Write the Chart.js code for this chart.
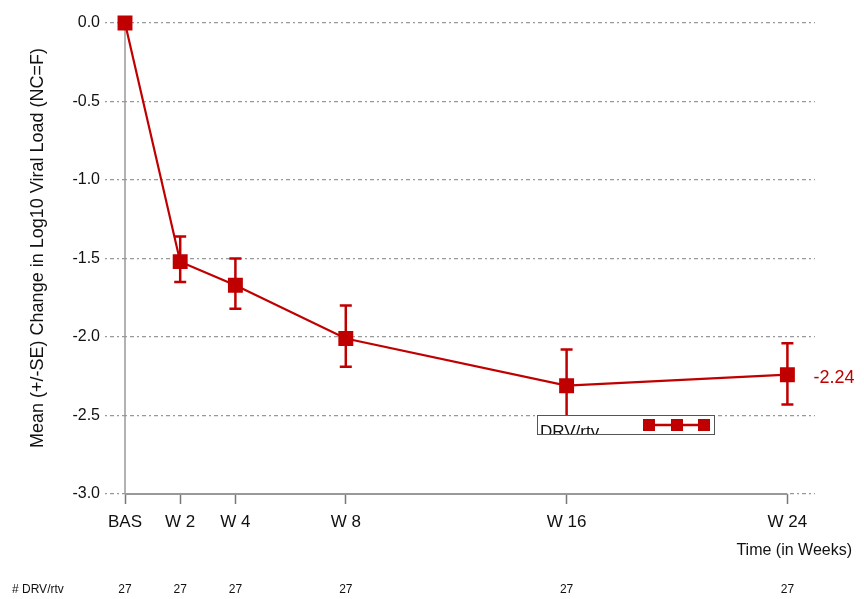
<!DOCTYPE html>
<html>
<head>
<meta charset="utf-8">
<script src="https://cdn.jsdelivr.net/npm/chart.js@4"></script>
<style>
  body { margin: 0; background: #fff; }
</style>
</head>
<body>
<canvas id="vlChart" width="864" height="599"></canvas>
<script>
const weeks = [0, 2, 4, 8, 16, 24];
const weekLabels = ['BAS', 'W 2', 'W 4', 'W 8', 'W 16', 'W 24'];
const meanChange = [0, -1.52, -1.67, -2.01, -2.31, -2.24];
const seUpper = [0, -1.36, -1.50, -1.80, -2.08, -2.04];
const seLower = [0, -1.65, -1.82, -2.19, -2.54, -2.43];
const nPatients = [27, 27, 27, 27, 27, 27];
const seriesName = 'DRV/rtv';
const yTitle = 'Mean (+/-SE) Change in Log10 Viral Load (NC=F)';

const red = '#C00000';
const font = "'Liberation Sans', Arial, sans-serif";

// error bars behind the markers
const errorBars = {
    id: 'errorBars',
    beforeDatasetsDraw(chart) {
        const ctx = chart.ctx;
        const x = chart.scales.x, y = chart.scales.y;
        ctx.save();
        // solid axis lines (grid stays dashed)
        ctx.strokeStyle = '#999';
        ctx.lineWidth = 1.5;
        ctx.beginPath();
        ctx.moveTo(x.getPixelForValue(0), y.getPixelForValue(0));
        ctx.lineTo(x.getPixelForValue(0), y.getPixelForValue(-3));
        ctx.stroke();
        ctx.lineWidth = 2;
        ctx.beginPath();
        ctx.moveTo(x.getPixelForValue(weeks[0]), y.getPixelForValue(-3));
        ctx.lineTo(x.getPixelForValue(weeks[weeks.length - 1]), y.getPixelForValue(-3));
        ctx.stroke();

        ctx.strokeStyle = red;
        ctx.lineWidth = 2.5;
        weeks.forEach((w, i) => {
            if (seUpper[i] === seLower[i]) return;
            const px = x.getPixelForValue(w);
            const top = y.getPixelForValue(seUpper[i]);
            const bot = y.getPixelForValue(seLower[i]);
            ctx.beginPath();
            ctx.moveTo(px, top); ctx.lineTo(px, bot);
            ctx.moveTo(px - 6, top); ctx.lineTo(px + 6, top);
            ctx.moveTo(px - 6, bot); ctx.lineTo(px + 6, bot);
            ctx.stroke();
        });
        ctx.restore();
    }
};

const extras = {
    id: 'extras',
    afterDatasetsDraw(chart) {
        const ctx = chart.ctx;
        const x = chart.scales.x, y = chart.scales.y;
        ctx.save();
        // final value label
        const last = meanChange.length - 1;
        ctx.fillStyle = red;
        ctx.font = '18px ' + font;
        ctx.textBaseline = 'middle';
        ctx.textAlign = 'left';
        ctx.fillText(meanChange[last].toFixed(2), x.getPixelForValue(weeks[last]) + 26, y.getPixelForValue(meanChange[last]) + 3);

        // legend box
        const lx = 537, ly = 415, lw = 177, lh = 19;
        ctx.fillStyle = '#fff';
        ctx.fillRect(lx, ly, lw, lh);
        ctx.strokeStyle = '#555';
        ctx.lineWidth = 1;
        ctx.strokeRect(lx + 0.5, ly + 0.5, lw, lh);
        ctx.save();
        ctx.beginPath();
        ctx.rect(lx, ly, lw, lh);
        ctx.clip();
        ctx.fillStyle = '#111';
        ctx.font = '17px ' + font;
        ctx.textBaseline = 'alphabetic';
        ctx.fillText(seriesName, lx + 3, ly + lh + 3);
        ctx.restore();
        ctx.strokeStyle = red;
        ctx.lineWidth = 2.5;
        ctx.beginPath();
        ctx.moveTo(lx + 110, ly + 10); ctx.lineTo(lx + 168, ly + 10);
        ctx.stroke();
        ctx.fillStyle = red;
        [lx + 112, lx + 140, lx + 167].forEach(cx => ctx.fillRect(cx - 6, ly + 4, 12, 12));
        ctx.restore();
    },
    afterDraw(chart) {
        const ctx = chart.ctx;
        const x = chart.scales.x;
        ctx.save();
        ctx.fillStyle = '#111';
        ctx.font = '16px ' + font;
        ctx.textAlign = 'right';
        ctx.textBaseline = 'middle';
        ctx.fillText('Time (in Weeks)', 852, 551);

        // rotated y title
        ctx.save();
        ctx.translate(38, 248);
        ctx.rotate(-Math.PI / 2);
        ctx.textAlign = 'center';
        ctx.font = '18px ' + font;
        ctx.fillText(yTitle, 0, 0);
        ctx.restore();

        ctx.font = "12px 'Liberation Sans Narrow', 'Liberation Sans', Arial, sans-serif";
        ctx.textAlign = 'left';
        ctx.fillText('# ' + seriesName, 12, 590);
        ctx.textAlign = 'center';
        nPatients.forEach((n, i) => ctx.fillText(String(n), x.getPixelForValue(weeks[i]), 590));
        ctx.restore();
    }
};

const ctx = document.getElementById('vlChart').getContext('2d');
new Chart(ctx, {
    type: 'line',
    data: {
        datasets: [{
            label: seriesName,
            data: weeks.map((w, i) => ({ x: w, y: meanChange[i] })),
            borderColor: red,
            backgroundColor: red,
            borderWidth: 2.2,
            pointStyle: 'rect',
            pointRadius: 9,
            pointHoverRadius: 9,
            tension: 0,
            fill: false,
            clip: false
        }]
    },
    options: {
        responsive: false,
        animation: false,
        layout: { padding: { left: 0, right: 49, top: 23, bottom: 0 } },
        plugins: {
            legend: { display: false },
            tooltip: { enabled: false }
        },
        scales: {
            x: {
                type: 'linear',
                min: 0,
                max: 25,
                afterBuildTicks: s => { s.ticks = weeks.map(v => ({ value: v })); },
                afterFit: s => { s.height = 105; },
                ticks: {
                    autoSkip: false,
                    maxRotation: 0,
                    padding: 8,
                    color: '#111',
                    font: { family: font, size: 17 },
                    callback: v => weekLabels[weeks.indexOf(v)]
                },
                grid: {
                    drawOnChartArea: false,
                    drawTicks: true,
                    tickLength: 10,
                    tickColor: '#777',
                    tickWidth: 1.5
                },
                border: { display: false }
            },
            y: {
                min: -3,
                max: 0,
                afterFit: s => { s.width = 125; },
                ticks: {
                    stepSize: 0.5,
                    padding: 5,
                    color: '#111',
                    font: { family: font, size: 16 },
                    callback: v => v.toFixed(1)
                },
                grid: {
                    color: '#999',
                    lineWidth: 1.2,
                    tickLength: 20,
                    tickColor: '#999',
                    tickBorderDash: [2, 3, 4, 3]
                },
                border: { display: false, dash: [2, 3, 4, 3] }
            }
        }
    },
    plugins: [errorBars, extras]
});
</script>
</body>
</html>
